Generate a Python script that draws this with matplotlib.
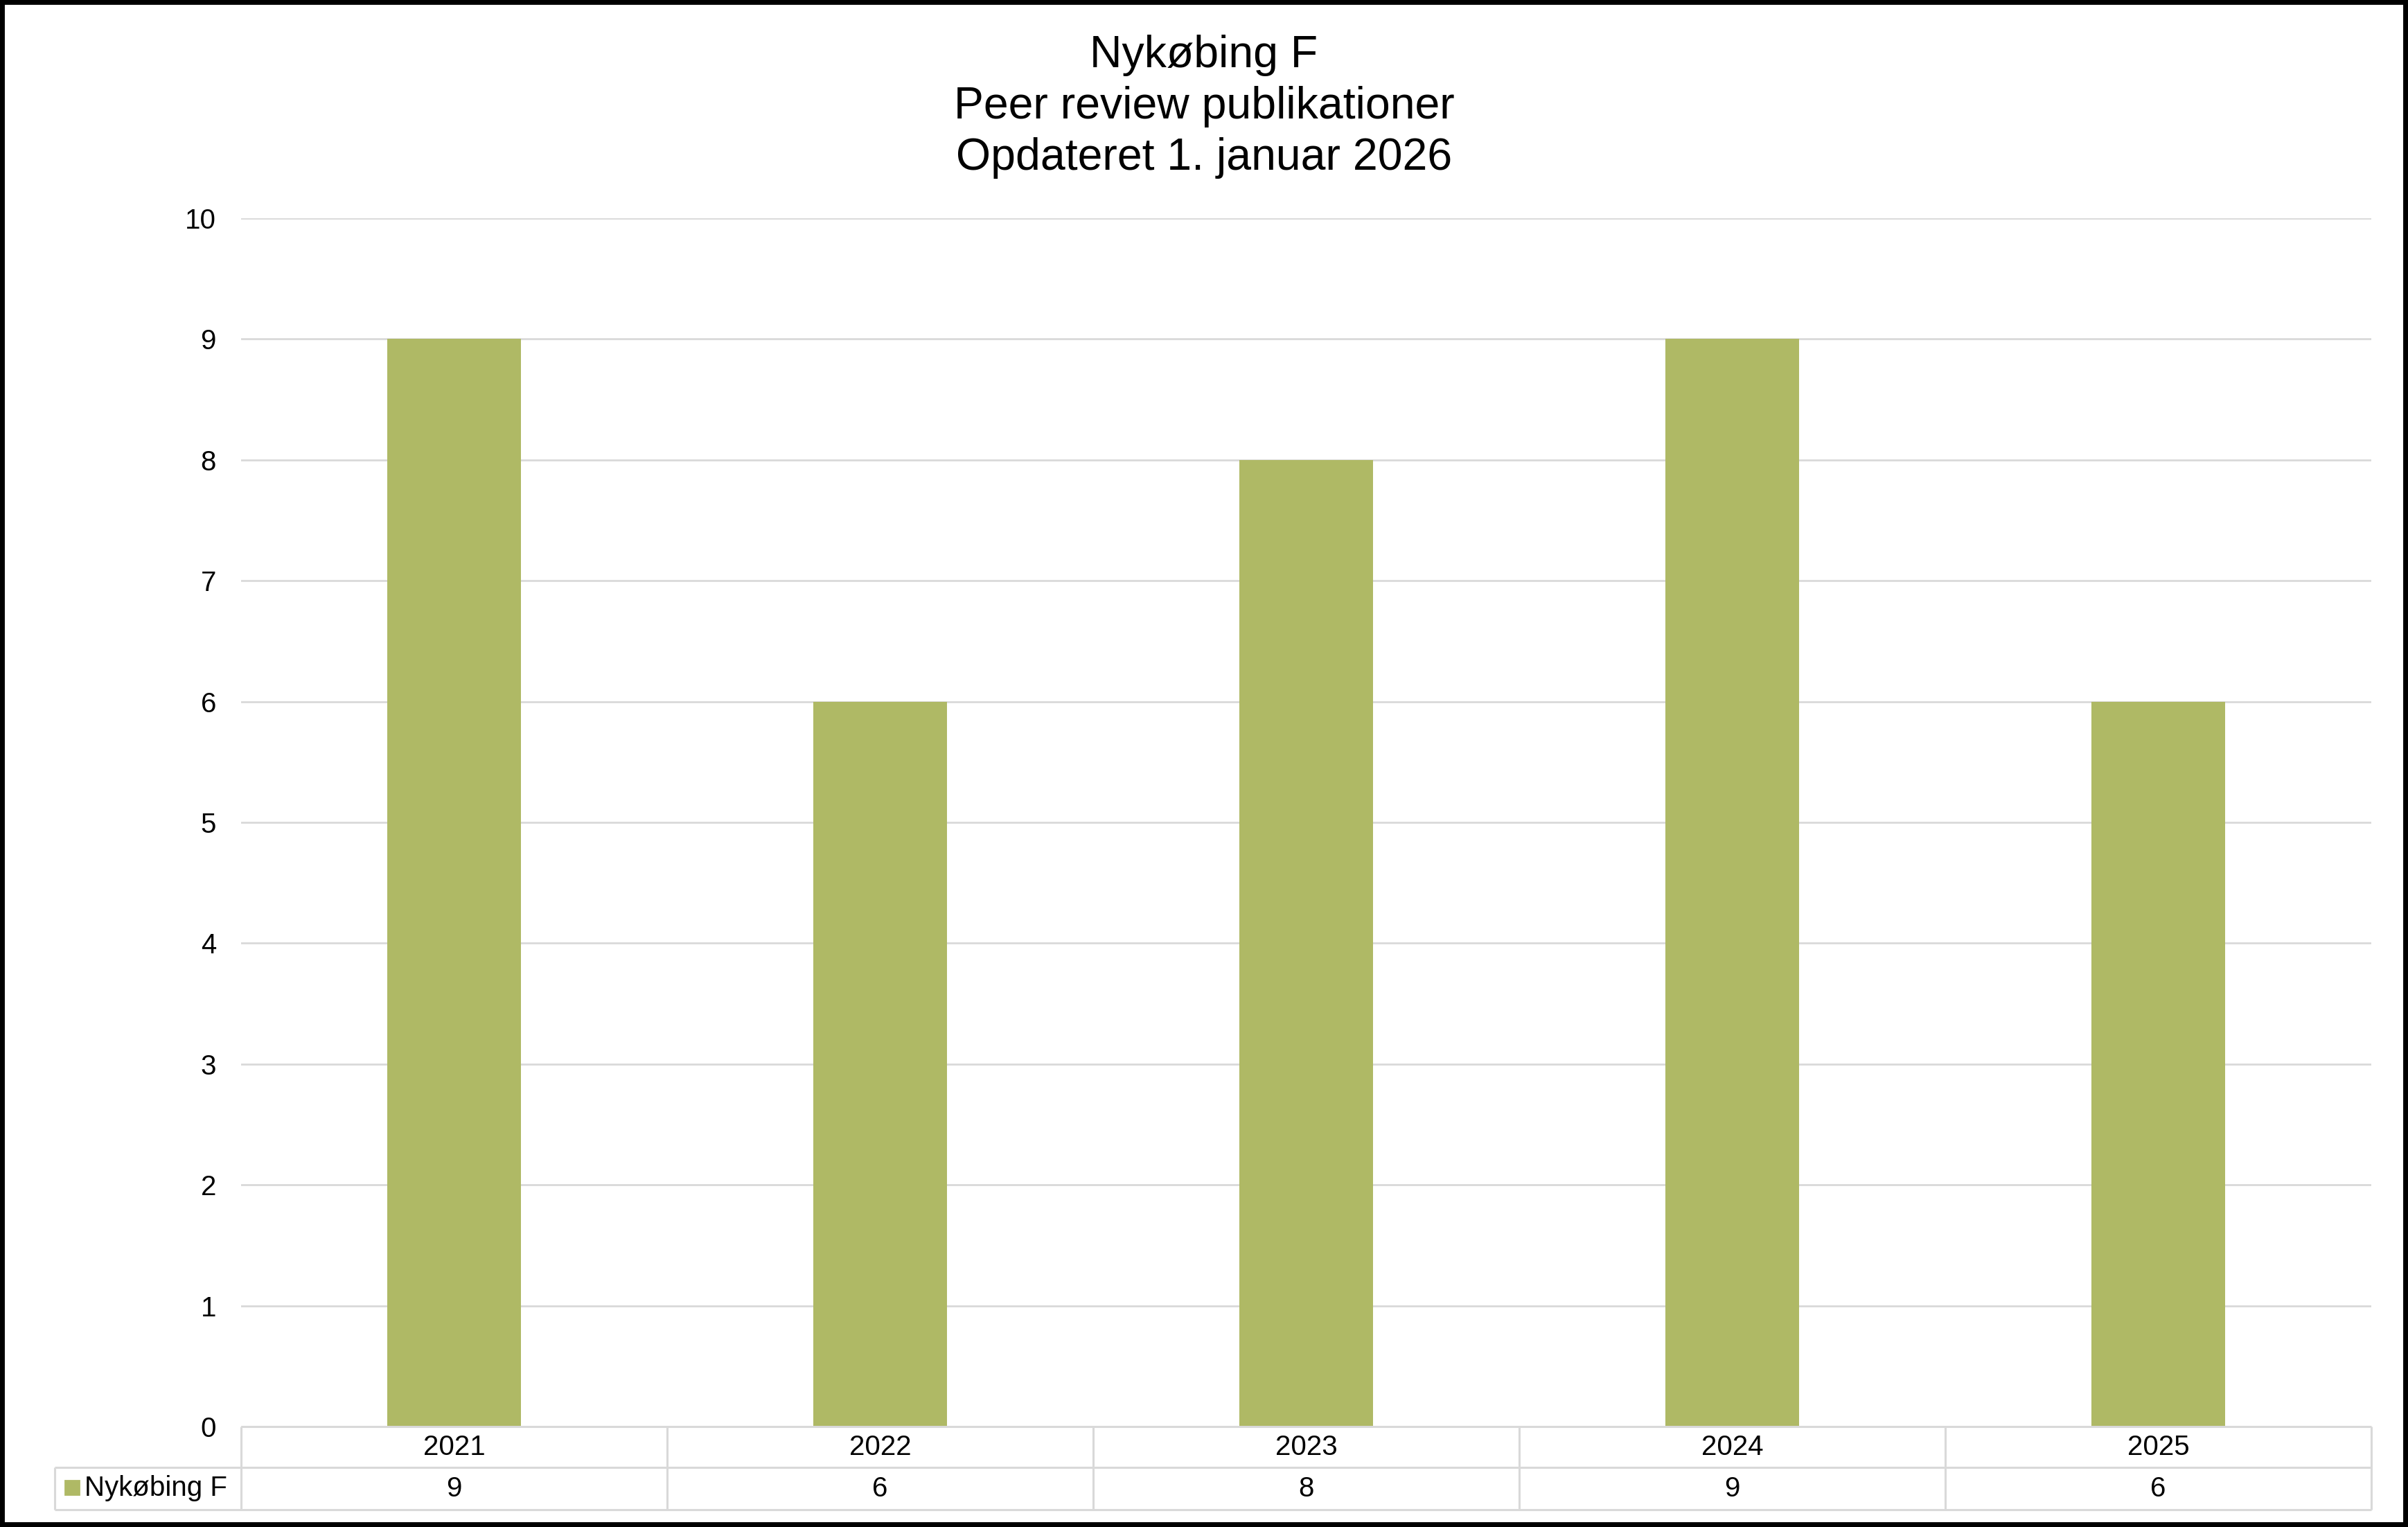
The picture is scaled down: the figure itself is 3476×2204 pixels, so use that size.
import matplotlib.pyplot as plt
from matplotlib.patches import Rectangle

years = ["2021", "2022", "2023", "2024", "2025"]
counts = [9, 6, 8, 9, 6]
series_name = "Nykøbing F"
title_lines = ["Nykøbing F", "Peer review publikationer", "Opdateret 1. januar 2026"]
y_ticks = list(range(0, 11))

BAR = "#afb965"
GRID = "#d9d9d9"
W, H = 3476, 2204
DPI = 200


def fx(px):
    return px / W


def fy(px):
    # pixel from top -> figure fraction from bottom
    return 1 - px / H


def main():
    plt.rcParams["font.family"] = ["Liberation Sans", "DejaVu Sans"]
    fig = plt.figure(figsize=(W / DPI, H / DPI), dpi=DPI)

    # plot area in pixels
    left, right, top, bottom = 348, 3423, 315, 2059
    ax = fig.add_axes([fx(left), fy(bottom), fx(right - left), (bottom - top) / H])
    x = list(range(len(years)))
    ax.bar(x, counts, width=0.314, color=BAR, zorder=2)
    ax.set_xlim(-0.5, len(years) - 0.5)
    ax.set_ylim(0, 10)
    ax.set_yticks(y_ticks)
    ax.set_xticks([])
    ax.tick_params(axis="y", length=0, pad=13, labelsize=14.5)
    for s in ax.spines.values():
        s.set_visible(False)
    ax.grid(axis="y", color=GRID, lw=1.0, zorder=0)

    # data table under the plot
    col_w = (right - left) / len(years)
    t_left, t_bottom = 79, 2179
    x0 = -0.5 - (left - t_left) / col_w
    tab = fig.add_axes([fx(t_left), fy(t_bottom), fx(right - t_left), (t_bottom - bottom) / H])
    tab.set_xlim(x0, len(years) - 0.5)
    tab.set_ylim(0, t_bottom - bottom)
    tab.axis("off")
    mid = t_bottom - 2118
    topy = t_bottom - bottom
    lk = dict(color=GRID, lw=1.1, clip_on=False)
    tab.hlines(topy, -0.5, len(years) - 0.5, **lk)
    tab.hlines([0, mid], x0, len(years) - 0.5, **lk)
    tab.vlines(x0, 0, mid, **lk)
    for i in range(len(years) + 1):
        tab.vlines(i - 0.5, 0, topy, **lk)
    for i, (yr, c) in enumerate(zip(years, counts)):
        tab.text(i, (mid + topy) / 2, yr, ha="center", va="center", fontsize=14.5)
        tab.text(i, mid / 2, str(c), ha="center", va="center", fontsize=14.5)
    # legend key in the table
    fig.patches.append(Rectangle((fx(94), fy(2157)), fx(20), 20 / H,
                                 transform=fig.transFigure, color=BAR))
    fig.text(fx(122), fy(2148), series_name, ha="left", va="center", fontsize=14.5)

    # title, three lines
    for line, base in zip(title_lines, [97, 171, 245]):
        fig.text(0.5, fy(base), line, ha="center", va="baseline", fontsize=23.2)

    # black frame round the whole chart
    fig.patches.append(Rectangle((0, 0), 1, 1, transform=fig.transFigure,
                                 fill=False, ec="black", lw=5))

    fig.savefig("out.png", dpi=DPI)


if __name__ == "__main__":
    main()
